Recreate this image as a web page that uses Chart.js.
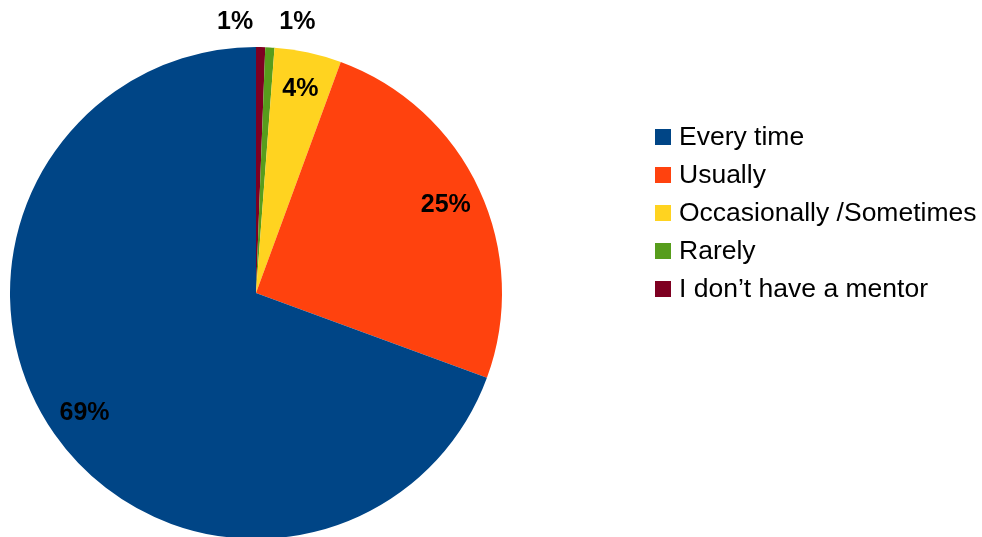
<!DOCTYPE html>
<html>
<head>
<meta charset="utf-8">
<script src="https://cdn.jsdelivr.net/npm/chart.js@4.4.1/dist/chart.umd.min.js"></script>
<style>
    html, body { margin: 0; padding: 0; background: #fff; overflow: hidden; }
    #wrap { position: absolute; left: 0; top: 0; width: 982px; height: 600px; }
</style>
</head>
<body>
<div id="wrap"><canvas id="mentorChart" width="982" height="600"></canvas></div>
<script>
// Legend order (as shown on the right)
const categories = ['Every time', 'Usually', 'Occasionally /Sometimes', 'Rarely', 'I don\u2019t have a mentor'];
const shares = [69.4, 25.0, 4.4, 0.6, 0.6];
const colors = ['#004586', '#ff420e', '#ffd320', '#579d1c', '#7e0021'];

// Slices run counter-clockwise in the original, so feed them reversed
const sliceLabels = categories.slice().reverse();
const sliceValues = shares.slice().reverse();
const sliceColors = colors.slice().reverse();

const total = shares.reduce((a, b) => a + b, 0);

// Percent labels on / next to the slices
const sliceLabelPlugin = {
    id: 'sliceLabels',
    afterDatasetsDraw(chart) {
        const ctx = chart.ctx;
        const meta = chart.getDatasetMeta(0);
        let outsideCount = 0;
        ctx.save();
        ctx.font = 'bold 25px "Liberation Sans", Arial, sans-serif';
        ctx.fillStyle = '#000';
        ctx.textBaseline = 'middle';
        meta.data.forEach((arc, i) => {
            const v = sliceValues[i];
            const pct = Math.round(v / total * 100) + '%';
            const mid = (arc.startAngle + arc.endAngle) / 2;
            if (v / total < 0.02) {
                const r = arc.outerRadius + 25;
                const px = arc.x + Math.cos(mid) * r;
                const py = arc.y + Math.sin(mid) * r;
                if (outsideCount % 2 === 0) {
                    ctx.textAlign = 'right';
                    ctx.fillText(pct, px - 8, py);
                } else {
                    ctx.textAlign = 'left';
                    ctx.fillText(pct, px + 8, py);
                }
                outsideCount++;
            } else {
                const r = arc.outerRadius * 0.85;
                ctx.textAlign = 'center';
                ctx.fillText(pct, arc.x + Math.cos(mid) * r, arc.y + Math.sin(mid) * r);
            }
        });
        ctx.restore();
    }
};

// Simple legend column on the right
const sideLegendPlugin = {
    id: 'sideLegend',
    afterDraw(chart) {
        const ctx = chart.ctx;
        const x0 = 655, y0 = 137, step = 38, box = 16;
        ctx.save();
        ctx.font = '26.5px "Liberation Sans", Arial, sans-serif';
        ctx.textBaseline = 'middle';
        ctx.textAlign = 'left';
        categories.forEach((name, i) => {
            const y = y0 + i * step;
            ctx.fillStyle = colors[i];
            ctx.fillRect(x0, y - box / 2, box, box);
            ctx.fillStyle = '#000';
            ctx.fillText(name, x0 + 24, y + 1);
        });
        ctx.restore();
    }
};

new Chart(document.getElementById('mentorChart'), {
    type: 'pie',
    data: {
        labels: sliceLabels,
        datasets: [{
            data: sliceValues,
            backgroundColor: sliceColors,
            borderWidth: 0,
            hoverOffset: 0
        }]
    },
    options: {
        responsive: false,
        animation: false,
        layout: {
            padding: { top: 47, left: 10, right: 480, bottom: 61 }
        },
        plugins: {
            legend: { display: false },
            tooltip: { enabled: false }
        }
    },
    plugins: [sliceLabelPlugin, sideLegendPlugin]
});
</script>
</body>
</html>
